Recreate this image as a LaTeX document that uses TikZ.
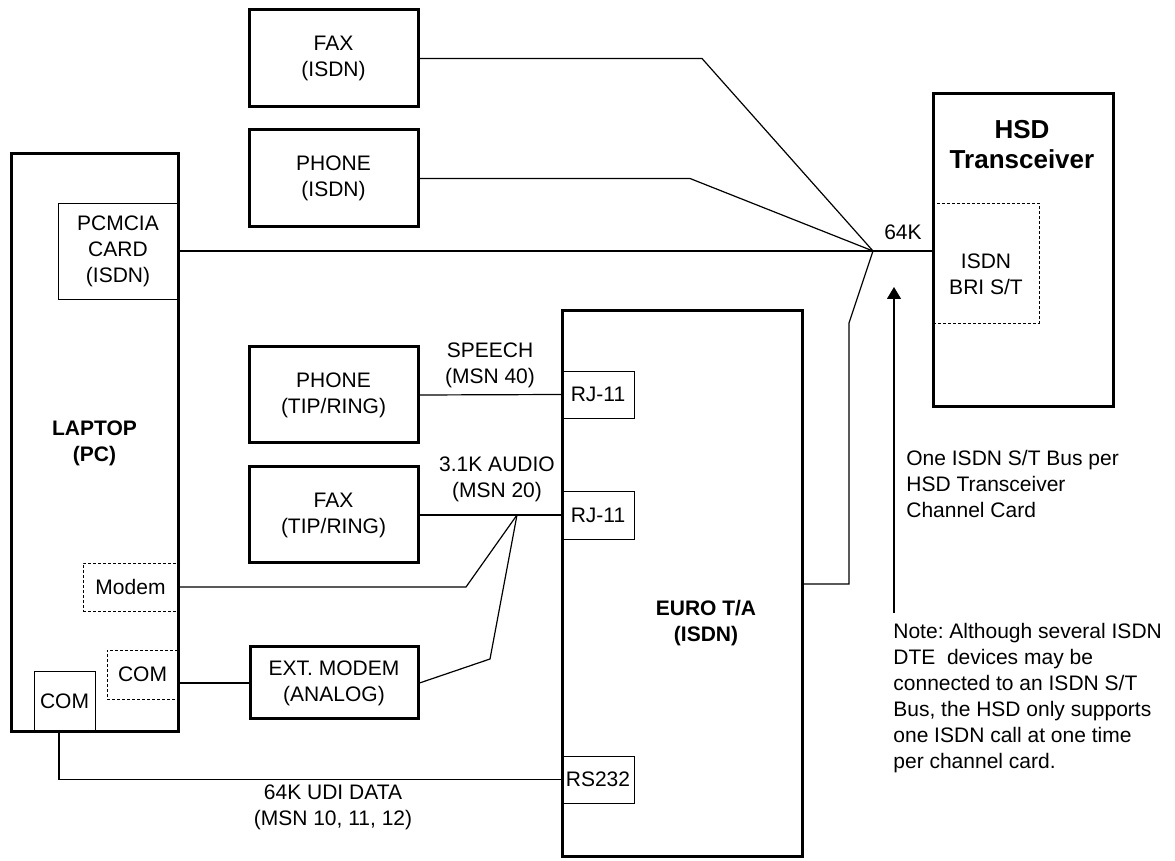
\documentclass[tikz,border=0pt]{standalone}
\usepackage{fontspec}
\setmainfont{Liberation Sans}
\usetikzlibrary{arrows.meta}
\frenchspacing
\begin{document}
\begin{tikzpicture}[x=0.5pt,y=-0.5pt,font=\fontsize{10.5}{13}\selectfont,
  unit/.style={draw, line width=1.5pt, align=center, inner sep=0pt},
  port/.style={draw, line width=0.45pt, align=center, inner sep=0pt},
  slot/.style={draw, dash pattern=on 1.5pt off 1pt, line width=0.45pt, inner sep=0pt},
  wire/.style={line width=0.6pt},
  txt/.style={align=center, inner sep=0pt}]
\useasboundingbox (0,0) rectangle (1175,861);
\node[unit, minimum width=84.5pt, minimum height=48.5pt] (faxI) at (333.5,58.5) {FAX\\(ISDN)};
\node[unit, minimum width=84.5pt, minimum height=48.5pt] (phoneI) at (333.5,178.5) {PHONE\\(ISDN)};
\node[unit, minimum width=83.5pt, minimum height=289pt, font=\fontsize{10.5}{13}\selectfont\bfseries] (laptop) at (94.5,443) {LAPTOP\\(PC)};
\node[port, minimum width=60pt, minimum height=48pt] (pcmcia) at (118,251) {PCMCIA\\CARD\\(ISDN)};
\node[slot, minimum width=47.5pt, minimum height=24pt] (modem) at (130.5,587) {Modem};
\node[slot, minimum width=35.5pt, minimum height=24.5pt] (comD) at (142.5,674.5) {COM};
\node[port, minimum width=30.5pt, minimum height=30.5pt] (comS) at (64.5,701.5) {COM};
\node[unit, minimum width=84.5pt, minimum height=48pt] (phoneT) at (333.5,395) {PHONE\\(TIP/RING)};
\node[unit, minimum width=84.5pt, minimum height=48pt] (faxT) at (333.5,515) {FAX\\(TIP/RING)};
\node[unit, minimum width=84pt, minimum height=36pt] (extmod) at (334,683) {EXT. MODEM\\(ANALOG)};
\node[unit, minimum width=120pt, minimum height=273pt] (euro) at (682,584) {};
\node[txt, font=\fontsize{10.5}{13}\selectfont\bfseries] (euroLbl) at (706,623) {EURO T/A\\(ISDN)};
\node[port, minimum width=36pt, minimum height=23.5pt] (rj1) at (598,394.5) {RJ-11};
\node[port, minimum width=36pt, minimum height=24pt] (rj2) at (598,515) {RJ-11};
\node[port, minimum width=36pt, minimum height=23.5pt] (rs232) at (598,779.5) {RS232};
\node[unit, minimum width=90pt, minimum height=156.5pt] (hsd) at (1023,250.5) {};
\node[txt, font=\fontsize{13}{15}\selectfont\bfseries] (hsdLbl) at (1022,145) {HSD\\Transceiver};
\node[slot, minimum width=53pt, minimum height=60pt] (bri) at (986,263) {};
\node[txt] (briLbl) at (986,274) {ISDN\\BRI S/T};
\coordinate (hub) at (873,251);
\coordinate (bend) at (849,323);
\coordinate (tap) at (517,515);
\coordinate (arrowfoot) at (894,613);
\coordinate (arrowtip) at (894,287);
\draw[wire] (faxI.east) -- (702,58.5) -- (hub);
\draw[wire] (phoneI.east) -- (690,178.5) -- (hub);
\draw[wire] (pcmcia.east) -- (hub) -- (hub -| hsd.west);
\draw[wire] (euro.east) -| (bend) -- (hub);
\draw[wire] (phoneT.east) -- (rj1.west);
\draw[wire] (faxT.east) -- (rj2.west);
\draw[wire] (modem.east) -- (466,587) -- (tap);
\draw[wire] (extmod.east) -- (490,659) -- (tap);
\draw[wire] (comD.east |- extmod.west) -- (extmod.west);
\draw[wire] ([xshift=-2.75pt]comS.south) |- (rs232.west);
\draw[wire, -{Triangle[width=7pt,length=6pt]}] (arrowfoot) -- (arrowtip);
\node[txt] (lbl64) at (903,232) {64K};
\node[txt] (speech) at (490,365) {SPEECH\\(MSN 40)};
\node[txt] (audio) at (497,479) {3.1K AUDIO\\(MSN 20)};
\node[txt] (udi) at (333,807) {64K UDI DATA\\(MSN 10, 11, 12)};
\node[txt, align=left, anchor=west] (busnote) at (906,484) {One ISDN S/T Bus per\\HSD Transceiver\\Channel Card};
\node[txt, align=left, anchor=west] (dtenote) at (893,698) {Note: Although several ISDN\\DTE~ devices may be\\connected to an ISDN S/T\\Bus, the HSD only supports\\one ISDN call at one time\\per channel card.};
\end{tikzpicture}
\end{document}
